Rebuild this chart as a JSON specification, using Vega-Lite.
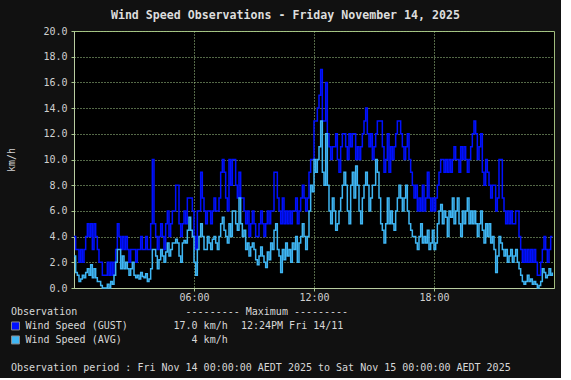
{
  "$schema": "https://vega.github.io/schema/vega-lite/v6.json",
  "background": "#111111",
  "padding": {"left": 6, "top": 9, "right": 5, "bottom": 5},
  "spacing": 0,
  "config": {
    "font": "DejaVu Sans Mono",
    "view": {"fill": "#000000", "stroke": "#a0bc7c", "strokeWidth": 1},
    "axis": {
      "domainColor": "#b8cca0",
      "tickColor": "#a8c88c",
      "tickSize": 3,
      "gridColor": "#a9d18e",
      "gridDash": [1, 2],
      "gridOpacity": 1,
      "labelColor": "#d0d0d0",
      "labelFont": "DejaVu Sans Mono",
      "labelFontSize": 10,
      "labelPadding": 4,
      "labelOverlap": false,
      "titleFont": "DejaVu Sans Mono",
      "titleFontSize": 10,
      "titleFontWeight": "normal",
      "titleColor": "#d0d0d0"
    }
  },
  "datasets": {
    "wind": [
      {"m":0,"g":4,"a":2.5},{"m":5,"g":3,"a":1.2},{"m":10,"g":3,"a":1},{"m":15,"g":2,"a":0.5},{"m":20,"g":3,"a":0.7},{"m":25,"g":2,"a":1},{"m":30,"g":3,"a":0.8},{"m":35,"g":4,"a":1.2},{"m":40,"g":5,"a":1.5},{"m":45,"g":4,"a":1},{"m":50,"g":5,"a":1.8},{"m":55,"g":3,"a":0.8},
      {"m":60,"g":5,"a":1.5},{"m":65,"g":4,"a":0.8},{"m":70,"g":3,"a":0.5},{"m":75,"g":2,"a":0.5},{"m":80,"g":2,"a":0.2},{"m":85,"g":1,"a":0},{"m":90,"g":1,"a":0},{"m":95,"g":1,"a":0},{"m":100,"g":2,"a":0.3},{"m":105,"g":1,"a":0},{"m":110,"g":2,"a":0.5},{"m":115,"g":1,"a":0.3},
      {"m":120,"g":2,"a":1},{"m":125,"g":3,"a":2},{"m":130,"g":5,"a":3},{"m":135,"g":4,"a":3},{"m":140,"g":3,"a":1.5},{"m":145,"g":4,"a":2.5},{"m":150,"g":3,"a":1.5},{"m":155,"g":4,"a":2},{"m":160,"g":3,"a":1.5},{"m":165,"g":2,"a":1},{"m":170,"g":3,"a":1.5},{"m":175,"g":3,"a":2},
      {"m":180,"g":3,"a":1},{"m":185,"g":2,"a":0.8},{"m":190,"g":3,"a":1},{"m":195,"g":3,"a":0.7},{"m":200,"g":4,"a":1.2},{"m":205,"g":3,"a":0.9},{"m":210,"g":3,"a":0.8},{"m":215,"g":4,"a":1.1},{"m":220,"g":3,"a":0.5},{"m":225,"g":3,"a":0.7},{"m":230,"g":5,"a":1.5},{"m":235,"g":10,"a":3},
      {"m":240,"g":5,"a":3},{"m":245,"g":4,"a":2.5},{"m":250,"g":3,"a":1.5},{"m":255,"g":4,"a":2.2},{"m":260,"g":5,"a":3},{"m":265,"g":4,"a":2.5},{"m":270,"g":3,"a":2},{"m":275,"g":5,"a":2.8},{"m":280,"g":6,"a":3.5},{"m":285,"g":4,"a":2.5},{"m":290,"g":5,"a":3},{"m":295,"g":6,"a":3.5},
      {"m":300,"g":6,"a":3.5},{"m":305,"g":8,"a":3.8},{"m":310,"g":8,"a":3.5},{"m":315,"g":5,"a":2.5},{"m":320,"g":4,"a":2},{"m":325,"g":5,"a":3.5},{"m":330,"g":6,"a":3.7},{"m":335,"g":5,"a":3.5},{"m":340,"g":7,"a":4.5},{"m":345,"g":7,"a":5.5},{"m":350,"g":7,"a":4.5},{"m":355,"g":6,"a":4},
      {"m":360,"g":4,"a":2},{"m":365,"g":3,"a":1},{"m":370,"g":6,"a":3},{"m":375,"g":6,"a":4},{"m":380,"g":9,"a":5},{"m":385,"g":7,"a":4},{"m":390,"g":6,"a":3},{"m":395,"g":5,"a":3},{"m":400,"g":6,"a":4},{"m":405,"g":6,"a":3.5},{"m":410,"g":5,"a":3},{"m":415,"g":6,"a":3.8},
      {"m":420,"g":7,"a":4},{"m":425,"g":6,"a":3.5},{"m":430,"g":6,"a":3},{"m":435,"g":7,"a":4},{"m":440,"g":9,"a":5},{"m":445,"g":10,"a":5.5},{"m":450,"g":9,"a":4.5},{"m":455,"g":7,"a":4},{"m":460,"g":6,"a":3.5},{"m":465,"g":10,"a":5},{"m":470,"g":8,"a":4},{"m":475,"g":10,"a":6},
      {"m":480,"g":10,"a":6},{"m":485,"g":8,"a":5},{"m":490,"g":7,"a":4.5},{"m":495,"g":9,"a":7},{"m":500,"g":7,"a":5},{"m":505,"g":7,"a":4},{"m":510,"g":6,"a":4.5},{"m":515,"g":5,"a":3},{"m":520,"g":6,"a":3.5},{"m":525,"g":4,"a":2.5},{"m":530,"g":5,"a":3.2},{"m":535,"g":6,"a":3.5},
      {"m":540,"g":5,"a":3},{"m":545,"g":4,"a":2.2},{"m":550,"g":4,"a":1.8},{"m":555,"g":5,"a":2.5},{"m":560,"g":6,"a":3.2},{"m":565,"g":5,"a":2.5},{"m":570,"g":4,"a":2},{"m":575,"g":5,"a":1.6},{"m":580,"g":6,"a":2.8},{"m":585,"g":5,"a":2.2},{"m":590,"g":6,"a":3.5},{"m":595,"g":6,"a":3},
      {"m":600,"g":9,"a":4.5},{"m":605,"g":9,"a":5},{"m":610,"g":7,"a":3},{"m":615,"g":6,"a":2.5},{"m":620,"g":5,"a":1.2},{"m":625,"g":7,"a":3},{"m":630,"g":5,"a":2.2},{"m":635,"g":6,"a":3.5},{"m":640,"g":5,"a":2.5},{"m":645,"g":6,"a":3},{"m":650,"g":5,"a":2},{"m":655,"g":6,"a":3.5},
      {"m":660,"g":6,"a":3},{"m":665,"g":7,"a":4},{"m":670,"g":5,"a":2},{"m":675,"g":6,"a":3.5},{"m":680,"g":7,"a":4},{"m":685,"g":8,"a":5},{"m":690,"g":7,"a":4},{"m":695,"g":6,"a":3},{"m":700,"g":7,"a":4},{"m":705,"g":9,"a":6},{"m":710,"g":10,"a":8},{"m":715,"g":10,"a":7.5},
      {"m":720,"g":13,"a":10},{"m":725,"g":13,"a":9},{"m":730,"g":14,"a":10},{"m":735,"g":15,"a":11},{"m":740,"g":17,"a":13},{"m":745,"g":13,"a":9},{"m":750,"g":13,"a":8},{"m":755,"g":16,"a":12},{"m":760,"g":12,"a":8},{"m":765,"g":11,"a":6},{"m":770,"g":10,"a":5},{"m":775,"g":11,"a":7},
      {"m":780,"g":11,"a":6},{"m":785,"g":12,"a":4.5},{"m":790,"g":10,"a":5},{"m":795,"g":9,"a":6},{"m":800,"g":11,"a":7},{"m":805,"g":12,"a":8},{"m":810,"g":12,"a":9},{"m":815,"g":11,"a":8},{"m":820,"g":10,"a":6},{"m":825,"g":12,"a":5},{"m":830,"g":11,"a":8},{"m":835,"g":12,"a":9},
      {"m":840,"g":12,"a":7},{"m":845,"g":10,"a":9.5},{"m":850,"g":11,"a":8},{"m":855,"g":10,"a":6},{"m":860,"g":11,"a":5},{"m":865,"g":12,"a":7},{"m":870,"g":13,"a":8},{"m":875,"g":14,"a":9},{"m":880,"g":12,"a":8},{"m":885,"g":11,"a":6},{"m":890,"g":12,"a":7},{"m":895,"g":10,"a":8},
      {"m":900,"g":11,"a":8},{"m":905,"g":12,"a":10},{"m":910,"g":13,"a":9},{"m":915,"g":13,"a":7},{"m":920,"g":13,"a":5},{"m":925,"g":11,"a":4.5},{"m":930,"g":9,"a":3.5},{"m":935,"g":10,"a":5},{"m":940,"g":12,"a":7},{"m":945,"g":9,"a":5},{"m":950,"g":11,"a":6},{"m":955,"g":10,"a":5},
      {"m":960,"g":11,"a":4.5},{"m":965,"g":12,"a":6},{"m":970,"g":13,"a":7},{"m":975,"g":13,"a":8},{"m":980,"g":12,"a":7},{"m":985,"g":11,"a":6},{"m":990,"g":10,"a":7},{"m":995,"g":11,"a":8},{"m":1000,"g":12,"a":6},{"m":1005,"g":10,"a":5},{"m":1010,"g":9,"a":4.5},{"m":1015,"g":8,"a":4},
      {"m":1020,"g":7,"a":4},{"m":1025,"g":8,"a":3.5},{"m":1030,"g":6,"a":3},{"m":1035,"g":7,"a":4},{"m":1040,"g":6,"a":5},{"m":1045,"g":8,"a":3.5},{"m":1050,"g":6,"a":4},{"m":1055,"g":7,"a":3.5},{"m":1060,"g":9,"a":4.5},{"m":1065,"g":7,"a":3},{"m":1070,"g":6,"a":3.5},{"m":1075,"g":7,"a":4.5},
      {"m":1080,"g":6,"a":3},{"m":1085,"g":7,"a":3.5},{"m":1090,"g":8,"a":5},{"m":1095,"g":9,"a":6},{"m":1100,"g":10,"a":6.5},{"m":1105,"g":10,"a":5},{"m":1110,"g":9,"a":6},{"m":1115,"g":10,"a":5.5},{"m":1120,"g":9,"a":4},{"m":1125,"g":10,"a":6},{"m":1130,"g":9,"a":5.5},{"m":1135,"g":10,"a":7},
      {"m":1140,"g":11,"a":5},{"m":1145,"g":10,"a":6},{"m":1150,"g":10,"a":7},{"m":1155,"g":9,"a":5},{"m":1160,"g":11,"a":4},{"m":1165,"g":10,"a":6},{"m":1170,"g":11,"a":5},{"m":1175,"g":10,"a":6},{"m":1180,"g":9,"a":7},{"m":1185,"g":10,"a":5},{"m":1190,"g":11,"a":6},{"m":1195,"g":12,"a":5},
      {"m":1200,"g":13,"a":6},{"m":1205,"g":12,"a":5},{"m":1210,"g":10,"a":4},{"m":1215,"g":11,"a":5},{"m":1220,"g":12,"a":6},{"m":1225,"g":9,"a":4.5},{"m":1230,"g":8,"a":3.5},{"m":1235,"g":10,"a":5},{"m":1240,"g":9,"a":4},{"m":1245,"g":8,"a":5},{"m":1250,"g":7,"a":3.5},{"m":1255,"g":8,"a":4},
      {"m":1260,"g":8,"a":3},{"m":1265,"g":6,"a":1.2},{"m":1270,"g":7,"a":2.5},{"m":1275,"g":10,"a":4},{"m":1280,"g":10,"a":3.5},{"m":1285,"g":7,"a":3},{"m":1290,"g":6,"a":2.5},{"m":1295,"g":5,"a":3},{"m":1300,"g":6,"a":2},{"m":1305,"g":5,"a":2.5},{"m":1310,"g":6,"a":3},{"m":1315,"g":5,"a":2},
      {"m":1320,"g":5,"a":2.5},{"m":1325,"g":6,"a":3},{"m":1330,"g":6,"a":2},{"m":1335,"g":4,"a":1.5},{"m":1340,"g":3,"a":1},{"m":1345,"g":2,"a":0.5},{"m":1350,"g":3,"a":0.3},{"m":1355,"g":2,"a":0.5},{"m":1360,"g":3,"a":1},{"m":1365,"g":2,"a":0.5},{"m":1370,"g":3,"a":0.7},{"m":1375,"g":2,"a":0.3},
      {"m":1380,"g":3,"a":0.5},{"m":1385,"g":2,"a":0.3},{"m":1390,"g":1,"a":0},{"m":1395,"g":1,"a":0.2},{"m":1400,"g":2,"a":0.5},{"m":1405,"g":3,"a":1.5},{"m":1410,"g":4,"a":1.2},{"m":1415,"g":3,"a":0.8},{"m":1420,"g":2,"a":1},{"m":1425,"g":3,"a":1.5},{"m":1430,"g":4,"a":1},{"m":1435,"g":4,"a":1.2}
    ],
    "legendText": [
      {"row":0,"col":0,"label":"Observation"},
      {"row":0,"col":29,"label":"--------- Maximum ---------"},
      {"row":1,"col":2.4,"label":"Wind Speed (GUST)"},
      {"row":1,"col":27,"label":"17.0 km/h"},
      {"row":1,"col":38.2,"label":"12:24PM Fri 14/11"},
      {"row":2,"col":2.4,"label":"Wind Speed (AVG)"},
      {"row":2,"col":30,"label":"4 km/h"},
      {"row":4,"col":0,"label":"Observation period : Fri Nov 14 00:00:00 AEDT 2025 to Sat Nov 15 00:00:00 AEDT 2025"}
    ],
    "swatches": [
      {"row":1,"col":0.75,"series":"GUST"},
      {"row":2,"col":0.75,"series":"AVG"}
    ]
  },
  "vconcat": [
    {
      "width": 480,
      "height": 257,
      "title": {
        "text": "Wind Speed Observations - Friday November 14, 2025",
        "anchor": "start",
        "dx": 104,
        "offset": 4,
        "font": "DejaVu Sans Mono",
        "fontSize": 11.6,
        "fontWeight": "bold",
        "color": "#dddddd"
      },
      "data": {"name": "wind"},
      "encoding": {
        "x": {
          "field": "m",
          "type": "quantitative",
          "scale": {"domain": [0, 1440], "nice": false, "zero": false},
          "axis": {
            "title": null,
            "values": [360, 720, 1080],
            "labelExpr": "datum.value == 360 ? '06:00' : datum.value == 720 ? '12:00' : '18:00'",
            "grid": true,
            "labelPadding": 1
          }
        }
      },
      "layer": [
        {
          "mark": {"type": "line", "interpolate": "step-after", "color": "#0010ff", "strokeWidth": 1.5},
          "encoding": {
            "y": {
              "field": "g",
              "type": "quantitative",
              "scale": {"domain": [0, 20], "nice": false},
              "axis": {
                "title": "km/h",
                "values": [0, 2, 4, 6, 8, 10, 12, 14, 16, 18, 20],
                "format": ".1f",
                "grid": true,
                "titlePadding": 26
              }
            }
          }
        },
        {
          "mark": {"type": "line", "interpolate": "step-after", "color": "#3fb6f4", "strokeWidth": 1.5},
          "encoding": {
            "y": {
              "field": "a",
              "type": "quantitative",
              "axis": {
                "title": "km/h",
                "values": [0, 2, 4, 6, 8, 10, 12, 14, 16, 18, 20],
                "format": ".1f",
                "grid": true,
                "titlePadding": 26
              }
            }
          }
        }
      ]
    },
    {
      "width": 480,
      "height": 70,
      "view": {"fill": null, "stroke": null},
      "layer": [
        {
          "data": {"name": "swatches"},
          "mark": {"type": "point", "shape": "square", "filled": true, "size": 64, "stroke": "#8a8a8a", "strokeWidth": 1, "opacity": 1},
          "encoding": {
            "x": {"field": "col", "type": "quantitative", "scale": {"domain": [10.47, 90.2], "nice": false, "zero": false}, "axis": null},
            "y": {"field": "row", "type": "quantitative", "scale": {"domain": [-0.64, 4.36], "nice": false, "zero": false, "reverse": true}, "axis": null},
            "fill": {"field": "series", "type": "nominal", "scale": {"domain": ["GUST", "AVG"], "range": ["#0010ff", "#3fb6f4"]}, "legend": null}
          }
        },
        {
          "data": {"name": "legendText"},
          "mark": {"type": "text", "align": "left", "baseline": "middle", "font": "DejaVu Sans Mono", "fontSize": 10, "color": "#d8d8d8"},
          "encoding": {
            "x": {"field": "col", "type": "quantitative", "scale": {"domain": [10.47, 90.2], "nice": false, "zero": false}, "axis": null},
            "y": {"field": "row", "type": "quantitative", "scale": {"domain": [-0.64, 4.36], "nice": false, "zero": false, "reverse": true}, "axis": null},
            "text": {"field": "label"}
          }
        }
      ]
    }
  ]
}
